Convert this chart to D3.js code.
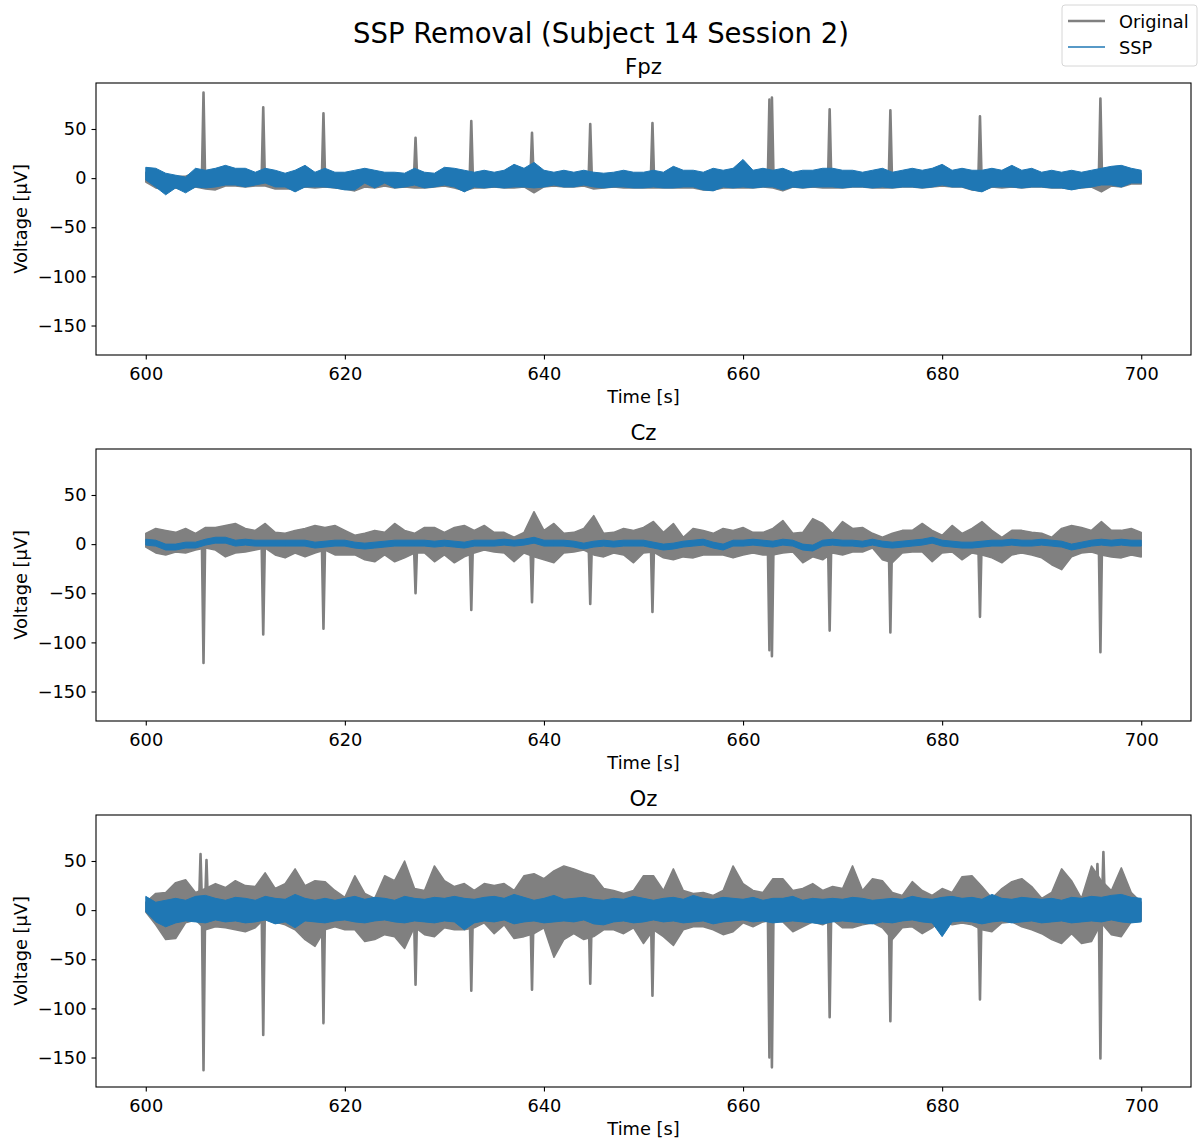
<!DOCTYPE html>
<html><head><meta charset="utf-8">
<script src="https://cdn.jsdelivr.net/npm/d3@7"></script>
<style>body{margin:0;background:#fff} text{font-family:"DejaVu Sans",sans-serif;fill:#000}</style>
</head><body><svg id="c" width="1203" height="1142"></svg>
<script>
// ---------------- data ----------------
const channels = ["Fpz", "Cz", "Oz"];
const timeTicks = [600, 620, 640, 660, 680, 700];
const voltTicks = [-150, -100, -50, 0, 50];
const seconds = d3.range(600, 701); // 1-s envelope grid

// Fpz envelopes (µV)
const fpzOrigHi = [6,5,3,2,2,6,5,6,7,5, 6,4,6,5,3,5,7,4,6,4, 4,5,6,5,4,4,3,6,4,3, 6,6,5,4,5,4,5,7,6,8, 5,4,5,4,5,4,3,4,5,4, 4,5,4,6,5,5,4,6,5,6, 8,5,6,5,6,4,5,5,6,6, 5,5,4,5,6,4,5,6,5,6, 7,5,6,5,5,6,5,7,5,6, 4,5,4,5,4,5,6,6,7,6, 5];
const fpzOrigLo = [-4,-10,-12,-10,-12,-9,-11,-12,-8,-8, -9,-8,-8,-11,-11,-11,-9,-10,-9,-10, -11,-13,-9,-10,-8,-10,-9,-10,-10,-9, -8,-10,-13,-10,-10,-9,-10,-10,-9,-15, -9,-8,-9,-9,-8,-11,-10,-9,-10,-10, -10,-10,-10,-10,-10,-10,-12,-12,-10,-10, -10,-10,-9,-10,-13,-9,-10,-9,-10,-10, -10,-9,-9,-10,-10,-10,-9,-9,-10,-9, -8,-9,-9,-12,-13,-9,-10,-9,-10,-9, -9,-10,-10,-11,-10,-9,-14,-8,-9,-6, -6];
const fpzSspHi = [11,10,5,3,1,10,8,10,13,10, 10,6,10,8,5,8,13,6,10,6, 6,8,10,8,6,6,5,10,6,5, 11,10,8,6,8,6,8,14,10,16, 8,6,8,6,8,6,5,6,8,6, 6,8,6,12,8,8,6,10,8,10, 19,8,10,8,10,6,8,8,10,10, 8,8,6,8,10,6,8,10,8,10, 14,8,10,8,8,10,8,13,8,10, 6,8,6,8,6,8,10,12,13,10, 8];
const fpzSspLo = [-2,-9,-17,-10,-15,-9,-10,-9,-7,-7, -9,-7,-5,-9,-9,-14,-9,-9,-9,-10, -12,-12,-5,-10,-5,-10,-9,-7,-10,-9, -7,-9,-14,-9,-10,-9,-10,-9,-9,-10, -9,-7,-9,-9,-7,-9,-10,-9,-9,-10, -10,-9,-10,-10,-9,-9,-12,-13,-9,-10, -9,-10,-9,-9,-12,-9,-10,-9,-9,-9, -10,-9,-9,-10,-9,-10,-9,-9,-10,-9, -7,-9,-9,-12,-14,-9,-9,-9,-10,-9, -9,-10,-10,-12,-10,-9,-7,-7,-9,-5, -5];

// Cz envelopes (µV)
const czOrigHi = [11,16,14,12,16,11,17,17,19,21, 16,14,21,12,11,14,16,19,17,19, 14,9,11,14,12,21,14,11,17,17, 12,17,19,14,19,12,12,7,12,33, 14,21,11,12,16,29,11,12,16,14, 17,23,12,21,7,16,14,11,16,14, 17,12,12,16,24,11,12,26,21,11, 23,16,17,11,7,11,14,14,21,14, 9,19,11,16,23,14,7,14,14,12, 11,7,16,19,17,14,23,14,14,16, 12];
const czOrigLo = [-3,-9,-11,-8,-9,-6,-4,-6,-13,-9, -8,-6,-4,-11,-14,-9,-13,-9,-6,-11, -11,-11,-16,-18,-11,-18,-14,-9,-9,-18, -11,-19,-13,-9,-6,-8,-9,-18,-9,-13, -16,-19,-9,-8,-6,-11,-13,-9,-11,-19, -9,-8,-14,-16,-13,-14,-11,-11,-11,-14, -11,-9,-11,-11,-9,-8,-19,-13,-16,-9, -11,-8,-8,-4,-16,-19,-9,-8,-8,-18, -9,-8,-16,-9,-11,-14,-19,-11,-9,-11, -14,-21,-26,-13,-9,-8,-11,-13,-14,-11, -13];
const czSspHi = [5,4,0,0,2,2,5,7,7,4, 5,4,4,4,4,4,4,2,3,4, 4,2,1,2,3,4,4,4,4,3, 4,3,2,4,4,4,5,4,5,7, 4,4,4,3,1,3,4,3,4,4, 4,2,0,1,3,4,5,2,0,4, 4,5,4,3,5,4,0,-1,4,5, 4,4,3,5,3,2,3,4,5,7, 4,3,2,2,3,4,4,5,4,4, 5,4,3,0,2,4,5,4,5,4, 4];
const czSspLo = [-1,-2,-6,-6,-4,-4,-1,1,1,-2, -1,-2,-2,-2,-2,-2,-2,-4,-3,-2, -2,-4,-5,-4,-3,-2,-2,-2,-2,-3, -2,-3,-4,-2,-2,-2,-1,-2,-1,1, -2,-2,-2,-3,-5,-3,-2,-3,-2,-2, -2,-4,-6,-5,-3,-2,-1,-4,-6,-2, -2,-1,-2,-3,-1,-2,-6,-7,-2,-1, -2,-2,-3,-1,-3,-4,-3,-2,-1,1, -2,-3,-4,-4,-3,-2,-2,-1,-2,-2, -1,-2,-3,-6,-4,-2,-1,-2,-1,-2, -2];

// Oz envelopes (µV)
const ozOrigHi = [8,17,18,28,31,18,22,27,23,30, 25,24,38,22,27,42,25,30,29,20, 13,35,17,12,35,30,50,22,20,45, 30,24,27,20,27,25,27,20,35,37, 32,40,45,42,38,35,22,20,17,20, 35,35,20,42,20,17,18,15,20,45, 27,20,18,32,32,20,22,27,20,24, 22,45,20,32,30,18,15,29,20,15, 22,18,34,35,24,12,22,29,32,24, 12,18,42,30,12,45,30,20,43,18, 8];
const ozOrigLo = [-2,-15,-30,-29,-13,-10,-20,-17,-18,-20, -22,-18,-8,-12,-15,-20,-30,-37,-20,-17, -20,-20,-32,-30,-25,-27,-39,-17,-25,-27, -18,-20,-20,-18,-13,-24,-15,-29,-27,-24, -18,-48,-30,-24,-30,-27,-20,-20,-24,-18, -34,-20,-27,-36,-20,-17,-17,-20,-25,-22, -13,-17,-12,-10,-12,-22,-17,-12,-15,-10, -18,-18,-15,-13,-18,-30,-18,-17,-24,-18, -10,-15,-13,-15,-20,-22,-13,-12,-17,-20, -24,-30,-34,-24,-34,-32,-13,-25,-27,-12, -10];
const ozSspHi = [14,8,10,12,10,14,15,12,10,13, 12,10,14,12,11,16,12,10,12,10, 12,14,11,13,12,10,14,12,11,13, 12,14,12,11,13,14,12,16,13,10, 12,15,11,12,13,11,10,12,11,14, 12,10,12,13,11,15,12,11,13,12, 11,13,10,12,12,14,10,12,11,12, 11,13,12,10,11,12,11,14,12,11, 13,14,12,13,11,16,12,11,13,12, 11,12,10,13,12,14,13,15,16,13, 12];
const ozSspLo = [-2,-12,-17,-13,-11,-12,-13,-10,-12,-11, -13,-12,-10,-14,-12,-18,-11,-12,-13,-11, -10,-12,-13,-11,-10,-12,-13,-11,-12,-13, -11,-12,-20,-13,-11,-12,-10,-14,-12,-11, -13,-12,-11,-12,-10,-14,-15,-12,-11,-13, -12,-10,-12,-11,-13,-12,-11,-14,-12,-11, -10,-12,-11,-13,-12,-11,-12,-13,-14,-12, -11,-12,-13,-14,-12,-13,-11,-10,-12,-13, -27,-12,-11,-12,-14,-12,-11,-13,-12,-11, -13,-12,-11,-13,-12,-11,-12,-10,-12,-13, -12];

// narrow artifact peaks in the original signal (time s, value µV)
const spikeTimes = [605.8, 611.8, 617.85, 627.1, 632.7, 638.8, 644.65, 650.9, 662.65, 662.9, 668.7, 674.8, 683.8, 695.9];
const fpzSpikes = [87, 72, 66, 41, 58, 46, 55, 56, 80, 82, 70, 69, 63, 81];
const czSpikes = [-121, -92, -86, -50, -67, -59, -61, -69, -108, -114, -88, -90, -74, -110];
const ozSpikes = [-163, -127, -115, -76, -82, -81, -75, -87, -150, -160, -109, -113, -91, -151];
const ozExtraTimes = [605.5, 606.1, 695.6, 696.2];
const ozExtraPeaks = [57, 51, 47, 59];

const seriesNames = ["Original", "SSP"];
const colors = {Original: "#808080", SSP: "#1f77b4"};

// ---------------- layout ----------------
const data = {
  Fpz: {oh: fpzOrigHi, ol: fpzOrigLo, sh: fpzSspHi, sl: fpzSspLo, pt: spikeTimes, pv: fpzSpikes},
  Cz:  {oh: czOrigHi,  ol: czOrigLo,  sh: czSspHi,  sl: czSspLo,  pt: spikeTimes, pv: czSpikes},
  Oz:  {oh: ozOrigHi,  ol: ozOrigLo,  sh: ozSspHi,  sl: ozSspLo,
        pt: spikeTimes.concat(ozExtraTimes), pv: ozSpikes.concat(ozExtraPeaks)}
};

const svg = d3.select("#c");
const left = 96, right = 1191, axH = 272, tops = [83, 449, 815];
const fs = 17.8;
const x = d3.scaleLinear().domain([595, 705]).range([left, right]);

svg.append("text").attr("x", 601).attr("y", 43).attr("text-anchor", "middle")
  .style("font-size", "27.5px").text("SSP Removal (Subject 14 Session 2)");

channels.forEach((name, i) => {
  const top = tops[i];
  const d = data[name];
  const y = d3.scaleLinear().domain([-180, 96.8]).range([top + axH, top]);
  const g = svg.append("g");

  const band = (hi, lo) => d3.area()
    .x((v, j) => x(seconds[j]))
    .y0((v, j) => y(lo[j]))
    .y1((v, j) => y(hi[j]))(seconds);

  // original
  g.append("path").attr("d", band(d.oh, d.ol))
    .attr("fill", colors.Original).attr("stroke", colors.Original)
    .attr("stroke-width", 1.5).attr("stroke-linejoin", "round");
  const spikeLine = d3.line();
  d.pt.forEach((t, k) => {
    g.append("path")
      .attr("d", spikeLine([[x(t - 0.16), y(0)], [x(t), y(d.pv[k])], [x(t + 0.16), y(0)]]))
      .attr("fill", colors.Original).attr("stroke", colors.Original).attr("stroke-width", 2.6)
      .attr("stroke-linejoin", "round").attr("stroke-linecap", "round");
  });
  // SSP
  g.append("path").attr("d", band(d.sh, d.sl))
    .attr("fill", colors.SSP).attr("stroke", colors.SSP)
    .attr("stroke-width", 1).attr("stroke-linejoin", "round");

  // frame
  svg.append("rect").attr("x", left).attr("y", top).attr("width", right - left).attr("height", axH)
    .attr("fill", "none").attr("stroke", "#000").attr("stroke-width", 1.1);

  const xa = svg.append("g").attr("transform", `translate(0,${top + axH})`)
    .call(d3.axisBottom(x).tickValues(timeTicks).tickSize(4.5).tickPadding(7.5).tickFormat(d3.format("d")));
  const ya = svg.append("g").attr("transform", `translate(${left},0)`)
    .call(d3.axisLeft(y).tickValues(voltTicks).tickSize(4.5).tickPadding(5));
  [xa, ya].forEach(a => {
    a.select(".domain").remove();
    a.selectAll("line").attr("stroke", "#000").attr("stroke-width", 1.1);
    a.selectAll("text").style("font-size", fs + "px").style("font-family", "DejaVu Sans");
  });

  svg.append("text").attr("x", (left + right) / 2).attr("y", top - 9).attr("text-anchor", "middle")
    .style("font-size", "21.3px").text(name);
  svg.append("text").attr("x", (left + right) / 2).attr("y", top + axH + 48).attr("text-anchor", "middle")
    .style("font-size", fs + "px").text("Time [s]");
  svg.append("text").attr("transform", `translate(27,${top + axH / 2}) rotate(-90)`)
    .attr("text-anchor", "middle").style("font-size", fs + "px").text("Voltage [µV]");
});

// legend
const lg = svg.append("g");
lg.append("rect").attr("x", 1062).attr("y", 5).attr("width", 135).attr("height", 61).attr("rx", 3)
  .attr("fill", "#fff").attr("stroke", "#d6d6d6").attr("stroke-width", 1);
seriesNames.forEach((s, k) => {
  const yy = 21 + k * 26;
  lg.append("line").attr("x1", 1068).attr("x2", 1105).attr("y1", yy).attr("y2", yy)
    .attr("stroke", colors[s]).attr("stroke-width", s === "Original" ? 2.5 : 1.5);
  lg.append("text").attr("x", 1119).attr("y", yy + 6.5).style("font-size", fs + "px").text(s);
});
</script></body></html>
